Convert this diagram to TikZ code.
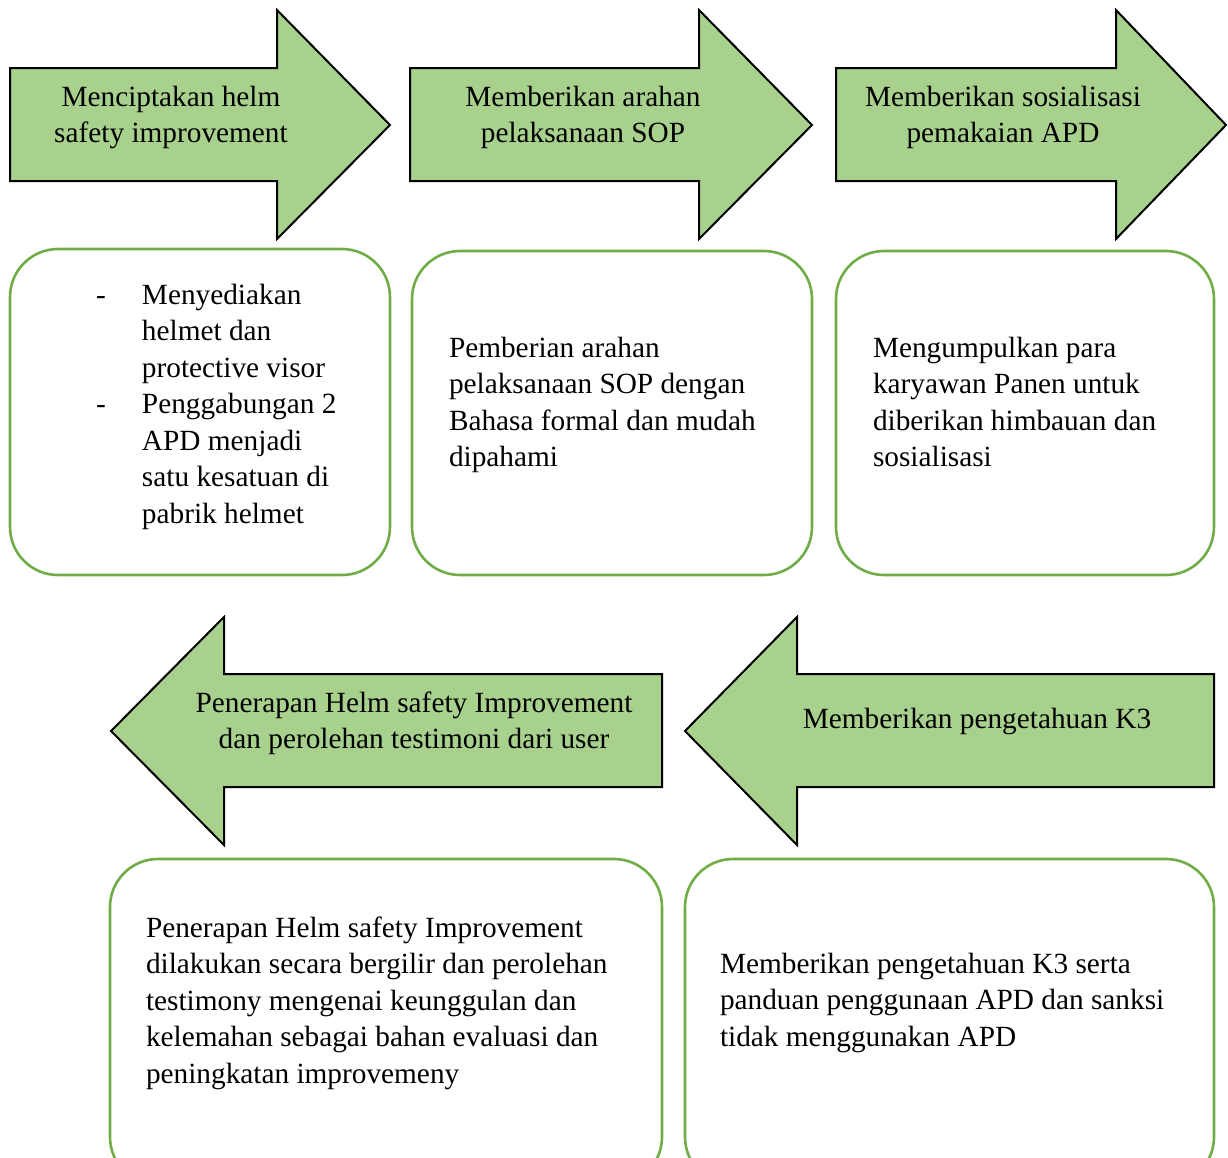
\documentclass[tikz,border=0pt]{standalone}
\usepackage{fontspec}
\setmainfont{Liberation Serif}
\definecolor{arrowgreen}{HTML}{A9D18E}
\definecolor{boxgreen}{HTML}{70AD47}
\begin{document}
\begin{tikzpicture}[x=0.5pt,y=-0.5pt,
  arrowshape/.style={fill=arrowgreen,draw=black,line width=1pt,line join=miter},
  card/.style={draw=boxgreen,line width=1.3pt,rounded corners=24pt},
  lbl/.style={inner sep=0pt,outer sep=0pt,font=\fontsize{14.65pt}{18.25pt}\selectfont},
  lblc/.style={lbl,align=center,anchor=north},
  lbll/.style={lbl,align=left,anchor=north west}]
\clip (0,0) rectangle (1228,1158);
\fill[white] (0,0) rectangle (1228,1158);
% top arrows
\draw[arrowshape] (10,68) -- (277,68) -- (277,10) -- (390,125) -- (277,239) -- (277,181) -- (10,181) -- cycle;
\draw[arrowshape] (410,68) -- (699,68) -- (699,10) -- (812,125) -- (699,239) -- (699,181) -- (410,181) -- cycle;
\draw[arrowshape] (836,68) -- (1116,68) -- (1116,10) -- (1226,125) -- (1116,239) -- (1116,181) -- (836,181) -- cycle;
% bottom arrows
\draw[arrowshape] (662,674) -- (224,674) -- (224,617) -- (111,731) -- (224,845) -- (224,787) -- (662,787) -- cycle;
\draw[arrowshape] (1214,674) -- (797,674) -- (797,617) -- (685,731) -- (797,845) -- (797,787) -- (1214,787) -- cycle;
% cards
\draw[card] (10,249) rectangle (390,575);
\draw[card] (412,251) rectangle (812,575);
\draw[card] (836,251) rectangle (1214,575);
\draw[card] (110,859) rectangle (662,1185);
\draw[card] (685,859) rectangle (1214,1185);
% arrow labels
\node[lblc] (a1) at (171,80.5) {\strut Menciptakan helm\\safety improvement};
\node[lblc] (a2) at (583,80.5) {\strut Memberikan arahan\\pelaksanaan SOP};
\node[lblc] (a3) at (1003,80.5) {\strut Memberikan sosialisasi\\pemakaian APD};
\node[lblc] (a4) at (414,686.5) {\strut Penerapan Helm safety Improvement\\dan perolehan testimoni dari user};
\node[lblc] (a5) at (977,702.5) {\strut Memberikan pengetahuan K3};
% card texts
\node[lbll] (b1) at (96,278.5) {\strut\makebox[23pt][l]{-}Menyediakan\\\hspace*{23pt}helmet dan\\\hspace*{23pt}protective visor\\\makebox[23pt][l]{-}Penggabungan 2\\\hspace*{23pt}APD menjadi\\\hspace*{23pt}satu kesatuan di\\\hspace*{23pt}pabrik helmet};
\node[lbll] (b2) at (449,331.5) {\strut Pemberian arahan\\pelaksanaan SOP dengan\\Bahasa formal dan mudah\\dipahami};
\node[lbll] (b3) at (873,331.5) {\strut Mengumpulkan para\\karyawan Panen untuk\\diberikan himbauan dan\\sosialisasi};
\node[lbll] (b4) at (146,911.5) {\strut Penerapan Helm safety Improvement\\dilakukan secara bergilir dan perolehan\\testimony mengenai keunggulan dan\\kelemahan sebagai bahan evaluasi dan\\peningkatan improvemeny};
\node[lbll] (b5) at (720,947.5) {\strut Memberikan pengetahuan K3 serta\\panduan penggunaan APD dan sanksi\\tidak menggunakan APD};
\end{tikzpicture}
\end{document}
